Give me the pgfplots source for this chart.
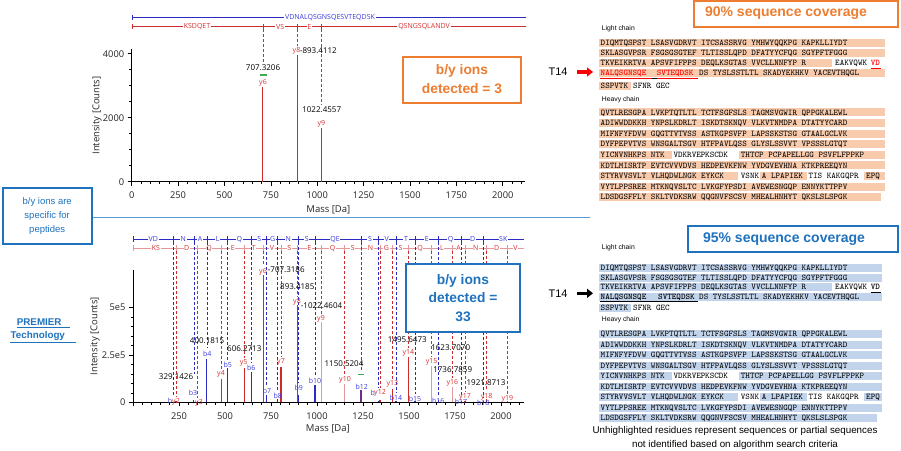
\documentclass[border=0pt]{standalone}
\usepackage{fontspec}
\setmainfont{Liberation Sans}
\newfontfamily\cf{Open Sans}
\usepackage{pgfplots}
\pgfplotsset{compat=1.18}
\usetikzlibrary{arrows.meta}
\definecolor{cRed}{HTML}{CC2C2C}
\definecolor{cPink}{HTML}{E8979A}
\definecolor{cBlue}{HTML}{2B2BC4}
\definecolor{cBlueT}{HTML}{3B3BE0}
\definecolor{cRedT}{HTML}{D93030}
\definecolor{cPurple}{HTML}{6B2D8F}
\definecolor{cGreen}{HTML}{3DAA55}
\definecolor{cOr}{HTML}{ED7D31}
\definecolor{cOrHL}{HTML}{F8CBAD}
\definecolor{cBlHL}{HTML}{C2D4EC}
\definecolor{cBox}{HTML}{1F72BE}
\definecolor{cSep}{HTML}{5B9BD5}
\newcommand\sq{\fontsize{8.7}{9}\selectfont\ttfamily}
\newcommand\lf{\fontsize{8}{9}\selectfont\cf}
\newcommand\ionf{\fontsize{7}{8}\selectfont\cf}
\newcommand\barf{\fontsize{7}{8}\selectfont\cf}
\newcommand\TX[3]{\node[anchor=base west,inner sep=0pt] at (#1,{#2+2.6}) {\sq #3};}
\newcommand\HL[4]{\fill[#1] (#2,{#4-4}) rectangle (#3,{#4+4});}
% heavy chain rows: #1 colour, #2 y0, #3 dy, #4 right edge, #5 last right edge
\newcommand\heavyrows[5]{%
 \HL{#1}{599}{#4}{#2}\TX{600.5}{#2}{QVTLRESGPA LVKPTQTLTL TCTFSGFSLS TAGMSVGWIR QPPGKALEWL}
 \HL{#1}{599}{#4}{#2+#3}\TX{600.5}{#2+#3}{ADIWWDDKKH YNPSLKDRLT ISKDTSKNQV VLKVTNMDPA DTATYYCARD}
 \HL{#1}{599}{#4}{#2+2*#3}\TX{600.5}{#2+2*#3}{MIFNFYFDVW GQGTTVTVSS ASTKGPSVFP LAPSSKSTSG GTAALGCLVK}
 \HL{#1}{599}{#4}{#2+3*#3}\TX{600.5}{#2+3*#3}{DYFPEPVTVS WNSGALTSGV HTFPAVLQSS GLYSLSSVVT VPSSSLGTQT}
 \HL{#1}{599}{671.7}{#2+4*#3}\HL{#1}{739}{#4}{#2+4*#3}
 \TX{600.5}{#2+4*#3}{YICNVNHKPS NTK}\TX{673.3}{#2+4*#3}{VDKRVEP}\TX{705}{#2+4*#3}{KSCDK}\TX{740.7}{#2+4*#3}{THTCP PCPAPELLGG PSVFLFPPKP}
 \HL{#1}{599}{#4}{#2+5*#3}\TX{600.5}{#2+5*#3}{KDTLMISRTP EVTCVVVDVS HEDPEVKFNW YVDGVEVHNA KTKPREEQYN}
 \HL{#1}{599}{738}{#2+6*#3}\HL{#1}{760}{806.7}{#2+6*#3}\HL{#1}{864}{#4}{#2+6*#3}
 \TX{600.5}{#2+6*#3}{STYRVVSVLT VLHQDWLNGK EYKCK}\TX{740.7}{#2+6*#3}{VSNK}\TX{761.7}{#2+6*#3}{A LPAPIEK}\TX{808.3}{#2+6*#3}{TIS KAKGQPR}\TX{866}{#2+6*#3}{EPQ}
 \HL{#1}{599}{#4}{#2+7*#3}\TX{600.5}{#2+7*#3}{VYTLPPSREE MTKNQVSLTC LVKGFYPSDI AVEWESNGQP ENNYKTTPPV}
 \HL{#1}{599}{#5}{#2+8*#3}\TX{600.5}{#2+8*#3}{LDSDGSFFLY SKLTVDKSRW QQGNVFSCSV MHEALHNHYT QKSLSLSPGK}
}
\pgfplotsset{myax/.style={
  scale only axis, anchor=south west, clip=false,
  axis lines=left, axis line style={-, black, line width=0.8pt},
  tick align=outside, major tick length=4pt, minor tick length=2.5pt,
  tick style={black, line width=0.6pt},
  ticklabel style={font=\fontsize{9.3}{10}\selectfont\cf, text=black!85},
  xticklabel style={yshift=-3pt},
  /pgf/number format/assume math mode=true,
  /pgf/number format/1000 sep={},
  label style={font=\fontsize{9.5}{10}\selectfont\cf, text=black!85},
  minor xtick={0,50,...,2100},
}}
\begin{document}
\begin{tikzpicture}
\path[use as bounding box] (0,0) rectangle (901pt,450pt);
\fill[white] (0,0) rectangle (901pt,450pt);
% ---------- top spectrum ----------
\begin{axis}[myax,
  at={(131.7pt,268.3pt)}, width=393.3pt, height=132.4pt,
  xmin=0, xmax=2120, ymin=0, ymax=4137,
  xtick={0,250,...,2000}, ytick={0,2000,4000}, minor y tick num=3,
  scaled y ticks=false,
  xlabel={Mass [Da]}, ylabel={Intensity [Counts]},
  xlabel style={at={(axis description cs:0.5,-0.214)}, anchor=center},
  ylabel style={at={(axis description cs:-0.088,0.5)}, anchor=center},
]
\addplot[ycomb, draw=cRed, line width=1.1pt, mark=none] coordinates {(707.32,2950) (893.41,3960) (1022.46,1680)};
\end{axis}
% ---------- bottom spectrum ----------
\begin{axis}[myax,
  at={(133pt,47.7pt)}, width=391.3pt, height=132.3pt,
  xmin=0, xmax=2127, ymin=0, ymax=696300,
  xtick={0,250,...,2000}, xticklabels={{},250,500,750,1000,1250,1500,1750,2000},
  ytick={0,250000,500000}, yticklabels={0,2.5e5,5e5}, minor y tick num=4,
  scaled y ticks=false,
  xlabel={Mass [Da]}, ylabel={Intensity [Counts]},
  xlabel style={at={(axis description cs:0.498,-0.204)}, anchor=center},
  ylabel style={at={(axis description cs:-0.097,0.5)}, anchor=center},
]
% b ions
\addplot[ycomb, draw=cBlue, line width=1.1pt, mark=none] coordinates {
 (219,4000) (329.14,10000) (400.18,230000) (514.8,178000) (645.2,160000) (726.8,38000)
 (786.5,15000) (898.5,40000) (989.3,90000) (1333.4,8000) (1429.6,8000) (1532.9,8000)
 (1659.5,10000) (1786.7,5000) (1904.1,5000)};
% y ions
\addplot[ycomb, draw=cRed, line width=1.1pt, mark=none] coordinates {
 (233.7,5000) (349.5,5000) (482.1,122000) (606.27,182000) (707.32,670000) (804.5,187000)
 (893.42,512000) (1342.6,12000) (1411.6,70000) (1495.65,240000) (1804.6,8000)
 (1921.87,20000) (2034.6,5000)};
% lower-confidence y ions
\addplot[ycomb, draw=cPink, line width=1.1pt, mark=none] coordinates {
 (1022.46,424000) (1150.52,95000) (1623.71,190000) (1736.79,80000)};
% b/y shared
\addplot[ycomb, draw=cPurple, line width=1.1pt, mark=none] coordinates {(1239.3,65000)};
\end{axis}
% ---------- annotations in pixel coordinates ----------
\begin{scope}[x=1pt,y=1pt,shift={(0pt,450pt)},yscale=-1]
% top fragment bars
\draw[cBlue, line width=0.6pt] (132,17.7)--(526,17.7);
\draw[cBlue, line width=0.6pt] (132,15)--(132,20.5);
\node[font=\barf, text=cBlueT, fill=white, inner sep=0.8pt] at (330,17.7) {VDNALQSGNSQESVTEQDSK};
\draw[cRed, line width=0.6pt] (132,26.7)--(526,26.7);
\foreach \x in {132,262.9,297.4,321.4} \draw[cRed, line width=0.6pt] (\x,24)--(\x,29.5);
\foreach \x/\t in {197/KSDQET,280.2/VS,309.4/E,424/QSNGSQLANDV}
  \node[font=\barf, text=cRedT, fill=white, inner sep=0.8pt] at (\x,26.7) {\t};
\foreach \x/\y in {262.9/63,297.4/46,321.4/105}
  \draw[cRed, line width=0.7pt, dash pattern=on 3pt off 2pt] (\x,29.5)--(\x,\y);
\node[font=\lf] at (263,67.7) {707.3206};
\draw[cGreen, line width=1.5pt] (259.5,75)--(266.5,75);
\node[font=\ionf, text=cRedT] at (263,83) {y6};
\node[font=\ionf, text=cRedT] at (296.5,50.7) {y8};
\node[font=\lf, anchor=west, inner sep=0pt] at (299.8,50.2) {-893.4112};
\node[font=\lf] at (321.7,110) {1022.4557};
\node[font=\ionf, text=cRedT] at (321.4,124) {y9};
% bottom fragment bars
\draw[cBlue, line width=0.6pt] (133.3,239.3)--(524.3,239.3);
\foreach \x in {133.3,173.3,194.3,207.3,227.7,251.7,266.7,277.7,298.3,315,361,378.3,396,415,438.3,461.7,483.3}
  \draw[cBlue, line width=0.6pt] (\x,236.5)--(\x,242.1);
\draw[cPink, line width=0.8pt] (133.3,248.3)--(524.3,248.3);
\foreach \x in {133.3,176,197.3,221.7,244.5,263.1,281,297.4,321.1,344.7,361,380,392.7,408.2,431.7,452.5,465,486.6,507.3}
  \draw[cPink, line width=0.6pt] (\x,245.5)--(\x,251.1);
\foreach \x/\t in {153.3/VD,183.3/N,200/A,217.7/L,239.3/Q,259.3/S,272.7/G,288.3/N,306.7/S,335/QE,370/S,386.7/V,406/T,426.7/E,450.7/Q,472.7/D,503.3/SK}
  \node[font=\barf, text=cBlueT, fill=white, inner sep=0.6pt] at (\x,239.3) {\t};
\foreach \x/\t in {156/KS,186.7/D,209/Q,232.7/E,253.7/T,272/V,289.3/S,309.3/E,332.5/Q,352.7/S,370.5/N,386.4/G,400.5/S,420/Q,442/L,458.7/A,475.8/N,496.7/D,515.5/V}
  \node[font=\barf, text=cRedT, fill=white, inner sep=0.6pt] at (\x,248.3) {\t};
\foreach \x/\y in {173.3/396,194.3/374,207.3/348,227.7/360,251.7/363,266.7/386,277.7/391,298.3/383,315/376,378.3/388,396/393,415/394,438.3/396,461.7/397,483.3/398}
  \draw[cBlue, line width=0.7pt, dash pattern=on 3pt off 2pt] (\x,242.1)--(\x,\y);
\foreach \x/\y in {176/397,197.3/398,221.7/369,244.5/358,263.1/266,281/357,297.4/297,321.1/314,344.7/375,380/388,392.7/379,408.2/348,431.7/357,452.5/378,465/392,486.6/391,507.3/394}
  \draw[cRed, line width=0.7pt, dash pattern=on 3pt off 2pt] (\x,251.1)--(\x,\y);
\draw[cPurple, line width=0.7pt, dash pattern=on 3pt off 2pt] (361,242.1)--(361,372);
\draw[cGreen, line width=1.5pt] (358,374.3)--(364,374.3);
\foreach \x/\y/\t in {170/401/b,193/392.5/b3,207.3/354/b4,227.7/365/b5,251.3/367.7/b6,267/390.7/b7,277.7/396/b8,298.7/388.3/b9,315/381/b10,361.7/386.7/b12,372.7/393.3/b,396/398.3/b14,415/399/b15,438.3/401/b16,461/401.7/b17,483.3/403.3/b18}
  \node[font=\ionf, text=cBlueT, inner sep=0.5pt] at (\x,\y) {\t};
\foreach \x/\y/\t in {176/401.7/y2,199/403/y3,221/374/y4,243.7/363.3/y5,263/271.7/y6,281/361.7/y7,297/302.3/y8,321/319.3/y9,345/380/y10,380/393.3/y12,392.3/384.3/y13,408.3/353.3/y14,431.7/361.7/y15,452.3/383.3/y16,465/397.3/y17,486.7/396.7/y18,507.3/399.3/y19}
  \node[font=\ionf, text=cRedT, inner sep=0.5pt] at (\x,\y) {\t};
\foreach \x/\y/\t in {176/376.7/329.1426,207/340.7/400.1815,244.3/349/606.2713,297.3/286.7/893.4185,344/364/1150.5204,407.3/340/1495.6473,450.7/347.7/1623.7070,452.7/369.3/1736.7859,486/382.3/1921.8713}
  \node[font=\lf, inner sep=0pt] at (\x,\y) {\t};
\node[font=\lf, anchor=west, inner sep=0pt] at (267.7,270) {-707.3186};
\node[font=\lf, anchor=west, inner sep=0pt] at (300.7,305.7) {-1022.4604};
% boxes
\draw[cOr, fill=white, line width=2.2pt] (403,57) rectangle (521,103);
\node[text=cOr, font=\fontsize{13.8}{19}\selectfont\bfseries, align=center] at (462,79.5) {b/y ions\\detected = 3};
\draw[cBox, fill=white, line width=2.2pt] (406,264) rectangle (520,332.3);
\node[text=cBox, font=\fontsize{13.8}{18.4}\selectfont\bfseries, align=center] at (463,297.8) {b/y ions\\detected =\\33};
\draw[cSep, line width=1pt] (92,217.7)--(590,217.7);
\draw[cBox, fill=white, line width=2pt] (2.7,188) rectangle (91.7,244);
\node[text=cBox, font=\fontsize{9.5}{14}\selectfont, align=center] at (47.2,216.5) {b/y ions are\\specific for\\peptides};
\node[text=cBox, font=\fontsize{9.8}{10}\selectfont\bfseries] at (39.2,321.7) {PREMIER};
\draw[cBox, line width=0.9pt] (16.7,327.7)--(70,327.7);
\node[text=cBox, font=\fontsize{9.8}{10}\selectfont\bfseries] at (37.8,335.7) {Technology};
\draw[cBox, line width=0.9pt] (10,342)--(76,342);
% T14 arrows
\node[font=\fontsize{11}{12}\selectfont] at (558,72) {T14};
\draw[red, line width=3.5pt, -{Triangle[length=6pt,width=9pt]}] (577,72)--(593,72);
\node[font=\fontsize{11}{12}\selectfont] at (558,293.3) {T14};
\draw[black, line width=3.5pt, -{Triangle[length=6pt,width=9pt]}] (577,293.3)--(593,293.3);
% coverage boxes
\draw[cOr, line width=2.2pt] (694,1.2) rectangle (898,26.7);
\node[text=cOr, font=\fontsize{14}{15}\selectfont\bfseries] at (786,13.6) {90\% sequence coverage};
\draw[cBox, line width=2.2pt] (688,226) rectangle (898,251.7);
\node[text=cBox, font=\fontsize{14}{15}\selectfont\bfseries] at (784,239) {95\% sequence coverage};
% ----- top sequence panel -----
\node[anchor=west, inner sep=0pt, font=\fontsize{6.8}{7}\selectfont] at (601.7,28.3) {Light chain};
\HL{cOrHL}{599}{885}{42.7}\TX{600.5}{42.7}{DIQMTQSPST LSASVGDRVT ITCSASSRVG YMHWYQQKPG KAPKLLIYDT}
\HL{cOrHL}{599}{885}{52.7}\TX{600.5}{52.7}{SKLASGVPSR FSGSGSGTEF TLTISSLQPD DFATYYCFQG SGYPFTFGGG}
\HL{cOrHL}{599}{832}{63.3}\TX{600.5}{63.3}{TKVEIKRTVA APSVFIFPPS DEQLKSGTAS VVCLLNNFYP R}
\TX{835}{63.3}{EAKVQWK}\node[anchor=base west,inner sep=0pt,text=red] at (870.7,65.9) {\sq\bfseries VD};
\draw[red, line width=0.9pt] (870.7,68.5)--(880.5,68.5);
\HL{cOrHL}{599}{885}{73.3}
\node[anchor=base west,inner sep=0pt,text=red] at (600.5,75.9) {\sq\bfseries NALQSGNSQE};
\node[anchor=base west,inner sep=0pt,text=red] at (656.7,75.9) {\sq\bfseries SVTEQDSK};
\TX{699}{73.3}{DS TYSLSSTLTL SKADYEKHKV YACEVTHQGL}
\draw[red, line width=0.9pt] (600,78.6)--(698,78.6);
\draw[black, line width=0.9pt] (651.7,78.6)--(656.7,78.6);
\HL{cOrHL}{599}{630.7}{85.7}\TX{600.5}{85.7}{SSPVTK}\TX{633}{85.7}{SFNR GEC}
\node[anchor=west, inner sep=0pt, font=\fontsize{6.8}{7}\selectfont] at (601.7,99.3) {Heavy chain};
\heavyrows{cOrHL}{112.5}{10.6}{885}{880.7}
% ----- bottom sequence panel -----
\node[anchor=west, inner sep=0pt, font=\fontsize{6.8}{7}\selectfont] at (601.7,247.7) {Light chain};
\HL{cBlHL}{599}{882}{267.7}\TX{600.5}{267.7}{DIQMTQSPST LSASVGDRVT ITCSASSRVG YMHWYQQKPG KAPKLLIYDT}
\HL{cBlHL}{599}{882}{277.7}\TX{600.5}{277.7}{SKLASGVPSR FSGSGSGTEF TLTISSLQPD DFATYYCFQG SGYPFTFGGG}
\HL{cBlHL}{599}{832}{287.2}\TX{600.5}{287.2}{TKVEIKRTVA APSVFIFPPS DEQLKSGTAS VVCLLNNFYP R}
\TX{835}{287.2}{EAKVQWK}\node[anchor=base west,inner sep=0pt] at (870.7,289.8) {\sq\bfseries VD};
\draw[black, line width=0.9pt] (870.7,292)--(880.5,292);
\HL{cBlHL}{599}{882}{297}
\node[anchor=base west,inner sep=0pt] at (600.5,299.6) {\sq\bfseries NALQSGNSQE};
\node[anchor=base west,inner sep=0pt] at (658,299.6) {\sq\bfseries SVTEQDSK};
\TX{699}{297}{DS TYSLSSTLTL SKADYEKHKV YACEVTHQGL}
\draw[black, line width=0.9pt] (600,301.8)--(698,301.8);
\HL{cBlHL}{599}{630.7}{307.5}\TX{600.5}{307.5}{SSPVTK}\TX{633}{307.5}{SFNR GEC}
\node[anchor=west, inner sep=0pt, font=\fontsize{6.8}{7}\selectfont] at (601.7,319.8) {Heavy chain};
\heavyrows{cBlHL}{334}{10.5}{882}{876.7}
\node[font=\fontsize{9.8}{11}\selectfont] at (735,431) {Unhighlighted residues represent sequences or partial sequences};
\node[font=\fontsize{9.8}{11}\selectfont] at (735,445) {not identified based on algorithm search criteria};
\end{scope}
\end{tikzpicture}
\end{document}
